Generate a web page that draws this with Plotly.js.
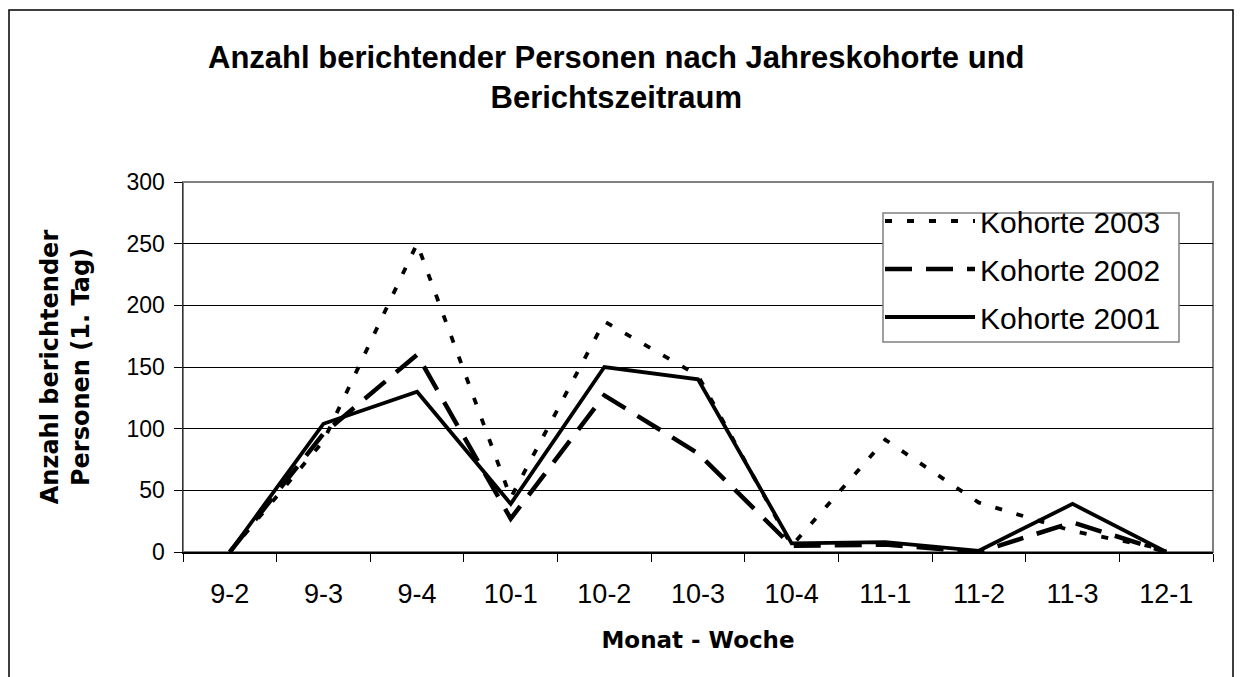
<!DOCTYPE html>
<html>
<head>
<meta charset="utf-8">
<script src="https://cdn.plot.ly/plotly-3.0.1.min.js"></script>
<style>
  html, body { margin: 0; padding: 0; background: #ffffff; }
  #chart { width: 1240px; height: 677px; }
</style>
</head>
<body>
<div id="chart"></div>
<script>
// Categories (Monat - Woche)
const categories = ['9-2', '9-3', '9-4', '10-1', '10-2', '10-3', '10-4', '11-1', '11-2', '11-3', '12-1'];

// Series values
const kohorte2003 = [0, 90, 250, 44, 187, 143, 5, 91, 40, 17, 2];
const kohorte2002 = [0, 96, 160, 27, 127, 80, 5, 6, 0, 24, 0];
const kohorte2001 = [0, 104, 130, 39, 150, 140, 7, 8, 1, 39, 0];

const seriesNames = ['Kohorte 2003', 'Kohorte 2002', 'Kohorte 2001'];
const yTicks = [0, 50, 100, 150, 200, 250, 300];

const FONT = '"Liberation Sans", Arial, sans-serif';
const WIDE = '"DejaVu Sans", sans-serif';

const traces = [
  {
    x: categories, y: kohorte2003, name: seriesNames[0], type: 'scatter', mode: 'lines',
    line: { color: '#000000', width: 3.8, dash: '7px,15px' }, legendgroup: 'a'
  },
  {
    x: categories, y: kohorte2002, name: seriesNames[1], type: 'scatter', mode: 'lines',
    line: { color: '#000000', width: 4.5, dash: '27px,14px' }, legendgroup: 'b'
  },
  {
    x: categories, y: kohorte2001, name: seriesNames[2], type: 'scatter', mode: 'lines',
    line: { color: '#000000', width: 3.8 }, legendgroup: 'c'
  }
];

const L = 183, R = 27, T = 182, B = 125;
const W = 1240, H = 677;
const pw = W - L - R, ph = H - T - B;
function px2x(p) { return (p - L) / pw; }
function py2y(p) { return (H - B - p) / ph; }

const layout = {
  width: W, height: H,
  margin: { l: L, r: R, t: T, b: B, pad: 0 },
  paper_bgcolor: '#ffffff',
  plot_bgcolor: '#ffffff',
  font: { family: FONT, color: '#000000' },
  showlegend: true,
  title: {
    text: 'Anzahl berichtender Personen nach Jahreskohorte und<br>Berichtszeitraum',
    font: { family: FONT, size: 31, color: '#000000', weight: 'bold' },
    xref: 'container', x: 0.497, xanchor: 'center',
    yref: 'container', y: 1 - 68 / H, yanchor: 'top'
  },
  xaxis: {
    type: 'category',
    range: [-0.5, categories.length - 0.5],
    showgrid: false,
    showline: true, linecolor: '#000000', linewidth: 1.5,
    ticks: 'outside', tickson: 'boundaries', ticklen: 8, tickcolor: '#000000', tickwidth: 1,
    tickfont: { family: FONT, size: 27, color: '#000000' },
    ticklabelstandoff: 17,
    title: {
      text: 'Monat - Woche',
      font: { family: WIDE, size: 23, color: '#000000', weight: 'bold' },
      standoff: 24
    },
    fixedrange: true
  },
  yaxis: {
    range: [0, 300],
    tickvals: yTicks,
    showgrid: true, gridcolor: '#000000', gridwidth: 1,
    zeroline: false,
    showline: true, linecolor: '#333333', linewidth: 1.5,
    ticks: 'outside', ticklen: 8, tickcolor: '#000000', tickwidth: 1,
    tickfont: { family: FONT, size: 23, color: '#000000' },
    ticklabelstandoff: 4,
    title: {
      text: 'Anzahl berichtender<br>Personen (1. Tag)',
      font: { family: WIDE, size: 24, color: '#000000', weight: 'bold' },
      standoff: 30
    },
    fixedrange: true
  },
  legend: {
    x: px2x(880), xanchor: 'left',
    y: py2y(195), yanchor: 'top',
    bgcolor: 'rgba(0,0,0,0)',
    borderwidth: 0,
    font: { family: FONT, size: 30, color: '#000000' },
    traceorder: 'grouped',
    tracegroupgap: 6,
    itemwidth: 90
  },
  shapes: [
    // plot area border (grey)
    { type: 'rect', xref: 'paper', yref: 'paper', x0: 0, x1: 1, y0: 0, y1: 1,
      line: { color: '#808080', width: 2 }, layer: 'below' },
    // outer chart frame
    { type: 'rect', xref: 'paper', yref: 'paper',
      x0: px2x(9), x1: px2x(1233), y0: py2y(700), y1: py2y(10),
      line: { color: '#000000', width: 1.5 }, fillcolor: 'rgba(0,0,0,0)', layer: 'below' },
    // legend box
    { type: 'rect', xref: 'paper', yref: 'paper',
      x0: px2x(883), x1: px2x(1179), y0: py2y(342), y1: py2y(213),
      line: { color: '#808080', width: 1.5 }, fillcolor: '#ffffff', layer: 'above' }
  ]
};

Plotly.newPlot('chart', traces, layout, { displayModeBar: false, staticPlot: true });
</script>
</body>
</html>
